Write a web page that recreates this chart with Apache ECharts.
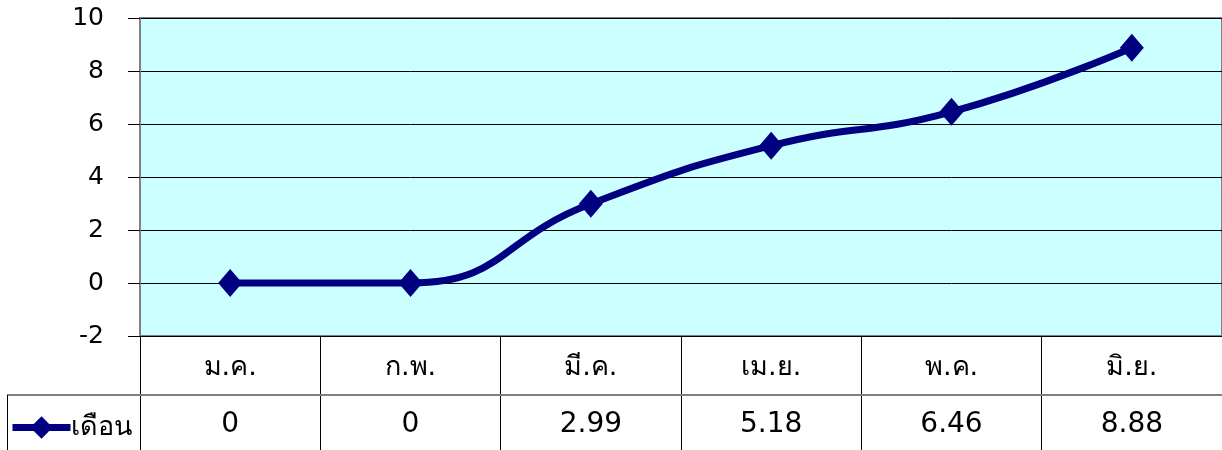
<!DOCTYPE html>
<html>
<head>
<meta charset="utf-8">
<script src="https://cdn.jsdelivr.net/npm/echarts@6/dist/echarts.min.js"></script>
<style>
  html, body { margin: 0; padding: 0; background: #fff; }
  #main { width: 1222px; height: 450px; }
</style>
</head>
<body>
<div id="main"></div>
<script>
// data
var months = ['ม.ค.', 'ก.พ.', 'มี.ค.', 'เม.ย.', 'พ.ค.', 'มิ.ย.'];
var values = [0, 0, 2.99, 5.18, 6.46, 8.88];
var seriesName = 'เดือน';
var yTicks = { min: -2, max: 10, step: 2 };

var FONT = 'Tahoma, "DejaVu Sans", "Noto Sans", sans-serif';
var NAVY = '#000080';

var chart = echarts.init(document.getElementById('main'), null, { renderer: 'canvas' });

var option = {
    animation: false,
    textStyle: { fontFamily: FONT },
    grid: {
        left: 140, right: 0, top: 18, bottom: 114,
        show: true,
        backgroundColor: '#CCFFFF',
        borderColor: '#808080',
        borderWidth: 2
    },
    legend: {
        left: 4, top: 409,
        itemWidth: 58, itemHeight: 28, itemGap: 0,
        lineStyle: { width: 7 },
        textStyle: { fontSize: 27, color: '#000', fontFamily: FONT, padding: [0, 0, 0, -5] },
        data: [seriesName]
    },
    xAxis: [{
        type: 'category',
        data: months,
        boundaryGap: true,
        axisLine: { onZero: false, lineStyle: { color: '#000', width: 1 } },
        axisTick: { show: true, interval: 0, length: 114, lineStyle: { color: '#000' } },
        axisLabel: { interval: 0, margin: 18, fontSize: 27, color: '#000', fontFamily: FONT }
    }, {
        type: 'category',
        data: months,
        position: 'bottom',
        offset: 59,
        boundaryGap: true,
        axisLine: { show: false },
        axisTick: { show: false },
        axisLabel: {
            interval: 0, margin: 16, fontSize: 28, color: '#000', fontFamily: FONT,
            formatter: function (v, i) { return String(values[i]); }
        }
    }],
    yAxis: {
        type: 'value',
        min: yTicks.min, max: yTicks.max, interval: yTicks.step,
        axisLine: { show: true, lineStyle: { color: '#808080', width: 2 } },
        axisTick: { show: true, length: 12, lineStyle: { color: '#000' } },
        splitLine: { lineStyle: { color: '#000', width: 1 } },
        axisLabel: { margin: 36, fontSize: 25, color: '#000', fontFamily: FONT, padding: [12, 0, 0, 0] }
    },
    graphic: [
        { type: 'line', shape: { x1: 7, y1: 395, x2: 1222, y2: 395 }, style: { stroke: '#808080', lineWidth: 2 }, z: 100 },
        { type: 'line', shape: { x1: 7.5, y1: 395, x2: 7.5, y2: 450 }, style: { stroke: '#000', lineWidth: 1 }, z: 100 }
    ],
    series: [{
        name: seriesName,
        type: 'line',
        data: values,
        smooth: 0.5,
        symbol: 'diamond',
        symbolSize: [24, 28],
        lineStyle: { color: NAVY, width: 7 },
        itemStyle: { color: NAVY },
        z: 5
    }]
};

chart.setOption(option);
</script>
</body>
</html>
